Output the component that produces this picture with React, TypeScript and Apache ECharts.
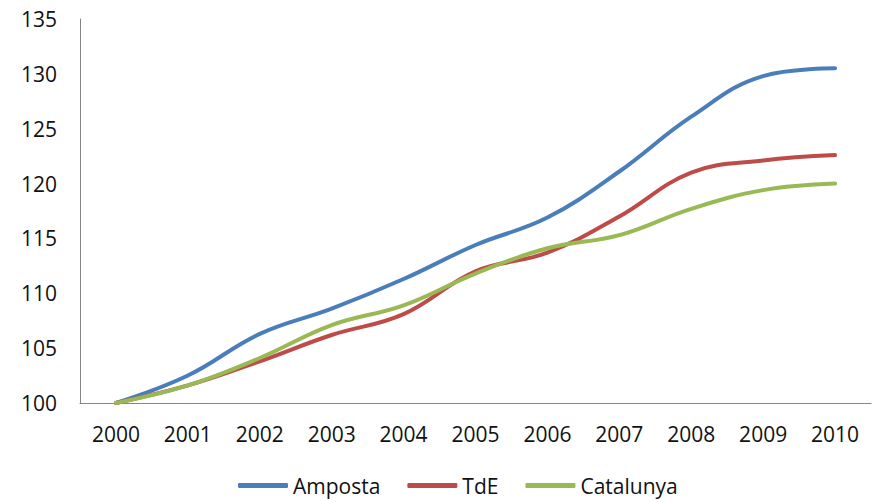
import React, { useEffect, useRef } from "react";
import * as echarts from "echarts";

const years = ["2000", "2001", "2002", "2003", "2004", "2005", "2006", "2007", "2008", "2009", "2010"];
const amposta = [100, 102.5, 106.3, 108.6, 111.3, 114.4, 116.9, 121.1, 126.1, 129.8, 130.5];
const tde = [100, 101.6, 103.8, 106.2, 108.1, 112.0, 113.7, 117.0, 121.0, 122.1, 122.6];
const catalunya = [100, 101.6, 104.1, 107.1, 108.9, 111.8, 114.1, 115.3, 117.7, 119.4, 120.0];

const FONT = "'Open Sans', 'Liberation Sans', sans-serif";

export default function App() {
  const ref = useRef<HTMLDivElement>(null);
  useEffect(() => {
    if (!ref.current) return;
    const chart = echarts.init(ref.current, undefined, { renderer: "svg" });
    const mk = (name: string, data: number[], color: string) => ({
      name,
      type: "line",
      data,
      smooth: 0.4,
      symbol: "none",
      lineStyle: { color, width: 4, cap: "round" },
      itemStyle: { color },
    });
    chart.setOption({
      animation: false,
      backgroundColor: "#ffffff",
      grid: { left: 80, right: 1, top: 19, bottom: 99, containLabel: false },
      xAxis: {
        type: "category",
        data: years,
        boundaryGap: true,
        axisLine: { show: true, lineStyle: { color: "#868686", width: 1 } },
        axisTick: { show: false },
        axisLabel: { color: "#111111", fontSize: 21, fontFamily: FONT, margin: 20 },
        splitLine: { show: false },
      },
      yAxis: {
        type: "value",
        min: 100,
        max: 135,
        interval: 5,
        axisLine: { show: true, lineStyle: { color: "#868686", width: 1 } },
        axisTick: { show: false },
        axisLabel: { color: "#111111", fontSize: 21, fontFamily: FONT, margin: 23 },
        splitLine: { show: false },
      },
      legend: {
        bottom: 1,
        left: 233,
        itemWidth: 50,
        itemHeight: 5,
        itemGap: 27,
        icon: "roundRect",
        textStyle: { color: "#111111", fontSize: 21, fontFamily: FONT },
        data: ["Amposta", "TdE", "Catalunya"],
      },
      series: [
        mk("Amposta", amposta, "#4A7EBB"),
        mk("TdE", tde, "#BE4B48"),
        mk("Catalunya", catalunya, "#98B954"),
      ],
    });
    return () => chart.dispose();
  }, []);
  return (
    <div
      ref={ref}
      style={{ position: "fixed", left: 0, top: 0, width: 872, height: 502 }}
    />
  );
}
